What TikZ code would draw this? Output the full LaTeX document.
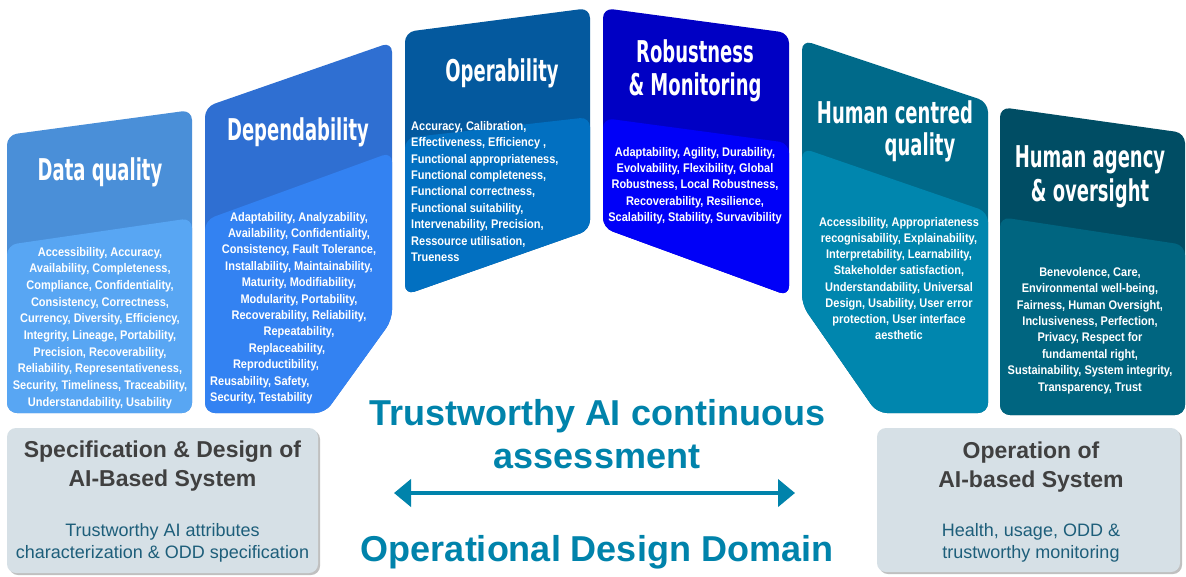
\documentclass[tikz,border=0pt]{standalone}
\usepackage{fontspec}
\setmainfont{Liberation Sans}
\newfontfamily\ttlfont[FakeStretch=0.6]{DejaVu Sans}
\newfontfamily\lstfont[FakeStretch=0.88]{Liberation Sans}
\usetikzlibrary{arrows.meta,shadows}
\definecolor{pAd}{HTML}{4A8FD8}\definecolor{pAl}{HTML}{58A6F3}
\definecolor{pBd}{HTML}{2F6FD2}\definecolor{pBl}{HTML}{3382F2}
\definecolor{pCd}{HTML}{04599E}\definecolor{pCl}{HTML}{0270C1}
\definecolor{pDd}{HTML}{0000C4}\definecolor{pDl}{HTML}{0000F8}
\definecolor{pEd}{HTML}{006A8A}\definecolor{pEl}{HTML}{0086AE}
\definecolor{pFd}{HTML}{004D64}\definecolor{pFl}{HTML}{006580}
\definecolor{boxfill}{HTML}{D6E0E6}
\definecolor{boxttl}{HTML}{404040}
\definecolor{boxsub}{HTML}{1D5E7A}
\definecolor{teal}{HTML}{0083AB}
\begin{document}
\begin{tikzpicture}[x=1pt,y=-1pt,
  panel/.style={rounded corners=10pt},
  ttl/.style={text=white, font=\ttlfont\bfseries\fontsize{30}{33}\selectfont, align=center, inner sep=0},
  lst/.style={text=white, font=\lstfont\bfseries\fontsize{12.5}{16.4}\selectfont, align=center, inner sep=0},
  lstl/.style={lst, align=left},
  phase/.style={rectangle, rounded corners=9pt, fill=boxfill, inner sep=0,
    drop shadow={shadow xshift=2pt, shadow yshift=-2pt, opacity=0.35, fill=black!70}},
  phasettl/.style={text=boxttl, font=\bfseries\fontsize{23}{29}\selectfont, align=center, inner sep=0},
  phasesub/.style={text=boxsub, font=\fontsize{18}{22}\selectfont, align=center, inner sep=0},
  big/.style={text=teal, font=\bfseries\fontsize{36}{43}\selectfont, align=center, inner sep=0}
]
\useasboundingbox (0,0) rectangle (1186,576);
\fill[white] (0,0) rectangle (1186,576);

% Panel 1: Data quality
\fill[pAd, panel] (7,135) -- (192,110) -- (192,413) -- (7,413) -- cycle;
\fill[pAl, panel] (7,245) -- (192,218) -- (192,413) -- (7,413) -- cycle;
\node[ttl] (t1) at (100,172) {Data quality};
\node[lst, font=\lstfont\bfseries\fontsize{12.5}{16.7}\selectfont] (l1) at (100,328) {Accessibility, Accuracy,\\Availability, Completeness,\\Compliance, Confidentiality,\\Consistency, Correctness,\\Currency, Diversity, Efficiency,\\Integrity, Lineage, Portability,\\Precision, Recoverability,\\Reliability, Representativeness,\\Security, Timeliness, Traceability,\\Understandability, Usability};

% Panel 2: Dependability
\fill[pBd, panel] (205,107) -- (392,42) -- (392,320) -- (325,413) -- (205,413) -- cycle;
\fill[pBl, panel] (205,220) -- (392,152) -- (392,320) -- (325,413) -- (205,413) -- cycle;
\node[ttl] (t2) at (298,132) {Dependability};
\node[lst] (l2) at (299,275.3) {Adaptability, Analyzability,\\Availability, Confidentiality,\\Consistency, Fault Tolerance,\\Installability, Maintainability,\\Maturity, Modifiability,\\Modularity, Portability,\\Recoverability, Reliability,\\Repeatability,};
\node[lst] (l2a) at (287,349) {Replaceability,};
\node[lst] (l2b) at (276,365.4) {Reproductibility,};
\node[lst, anchor=west] (l2c) at (210,381.8) {Reusability, Safety,};
\node[lst, anchor=west] (l2d) at (210,398.2) {Security, Testability};

% Panel 3: Operability
\fill[pCd, panel] (405,32) -- (590,8) -- (590,230) -- (405,295) -- cycle;
\fill[pCl, panel] (405,138) -- (590,117) -- (590,230) -- (405,295) -- cycle;
\node[ttl] (t3) at (502,73) {Operability};
\node[lstl, anchor=west] (l3) at (411,191.5) {Accuracy, Calibration,\\Effectiveness, Efficiency ,\\Functional appropriateness,\\Functional completeness,\\Functional correctness,\\Functional suitability,\\Intervenability, Precision,\\Ressource utilisation,\\Trueness};

% Panel 4: Robustness & Monitoring
\fill[pDd, panel] (603,8) -- (789,33) -- (789,296) -- (603,228) -- cycle;
\fill[pDl, panel] (603,118) -- (789,143) -- (789,296) -- (603,228) -- cycle;
\node[ttl] (t4) at (695,71) {Robustness\\\& Monitoring};
\node[lst, font=\lstfont\bfseries\fontsize{12.5}{16.3}\selectfont] (l4) at (695,185.7) {Adaptability, Agility, Durability,\\Evolvability, Flexibility, Global\\Robustness, Local Robustness,\\Recoverability, Resilience,\\Scalability, Stability, Survavibility};

% Panel 5: Human centred quality
\fill[pEd, panel] (802,40) -- (988,102) -- (988,413) -- (877,413) -- (802,305) -- cycle;
\fill[pEl, panel] (802,148) -- (988,212) -- (988,413) -- (877,413) -- (802,305) -- cycle;
\node[ttl] (t5) at (895,112) {Human centred};
\node[ttl] (t5b) at (920,147) {quality};
\node[lst, font=\lstfont\bfseries\fontsize{12.5}{16.2}\selectfont] (l5) at (899,278.5) {Accessibility, Appropriateness\\recognisability, Explainability,\\Interpretability, Learnability,\\Stakeholder satisfaction,\\Understandability, Universal\\Design, Usability, User error\\protection, User interface\\aesthetic};

% Panel 6: Human agency & oversight
\fill[pFd, panel] (1000,107) -- (1185,133) -- (1185,415) -- (1000,415) -- cycle;
\fill[pFl, panel] (1000,217) -- (1185,245) -- (1185,415) -- (1000,415) -- cycle;
\node[ttl, font=\ttlfont\bfseries\fontsize{30}{34}\selectfont] (t6) at (1090,177) {Human agency\\\& oversight};
\node[lst] (l6) at (1090,330.5) {Benevolence, Care,\\Environmental well-being,\\Fairness, Human Oversight,\\Inclusiveness, Perfection,\\Privacy, Respect for\\fundamental right,\\Sustainability, System integrity,\\Transparency, Trust};

% Bottom boxes
\node[phase, minimum width=311pt, minimum height=145pt] (spec) at (162.5,500.5) {};
\node[phasettl] (specT) at (162.5,466.5) {Specification \& Design of\\AI-Based System};
\node[phasesub] (specS) at (162.5,543) {Trustworthy AI attributes\\characterization \& ODD specification};

\node[phase, minimum width=303pt, minimum height=144pt] (oper) at (1028.5,500) {};
\node[phasettl] (operT) at (1031,467) {Operation of\\AI-based System};
\node[phasesub] (operS) at (1031,543) {Health, usage, ODD \&\\trustworthy monitoring};

% Center
\node[big] (cont) at (597,434) {Trustworthy AI continuous\\assessment};
\coordinate (aL) at (394,493);
\coordinate (aR) at (795,493);
\draw[teal, line width=4.5pt, {Triangle[length=17pt,width=27pt]}-{Triangle[length=17pt,width=27pt]}] (aL) -- (aR);
\node[big] (odd) at (597,552) {Operational Design Domain};
\end{tikzpicture}
\end{document}
